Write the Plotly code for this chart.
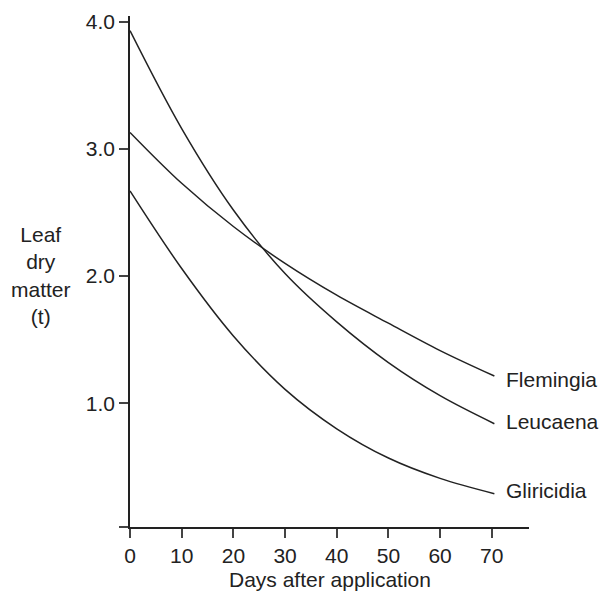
import plotly.graph_objects as go

# Leaf dry matter remaining after application (t)
days = [0, 10, 20, 30, 40, 50, 60, 70.5]
leucaena = [3.93, 3.16, 2.52, 2.02, 1.64, 1.32, 1.06, 0.84]
flemingia = [3.13, 2.73, 2.39, 2.10, 1.85, 1.63, 1.415, 1.215]
gliricidia = [2.67, 2.06, 1.53, 1.11, 0.80, 0.57, 0.41, 0.29]

series = [("Flemingia", flemingia, -3), ("Leucaena", leucaena, 2), ("Gliricidia", gliricidia, 3)]

x_ticks = [0, 10, 20, 30, 40, 50, 60, 70]
y_min, y_max = 0.028, 4.045
y_ticks = [y_min, 1.0, 2.0, 3.0, 4.0]
y_tick_text = ["", "1.0", "2.0", "3.0", "4.0"]

INK = "#222222"
FONT = "Liberation Sans, Arial, Helvetica, sans-serif"
FS = 21

fig = go.Figure()
for name, vals, _ in series:
    fig.add_trace(go.Scatter(
        x=days, y=vals, mode="lines", name=name,
        line=dict(color=INK, width=1.5, shape="spline", smoothing=1.0),
        showlegend=False, hoverinfo="skip",
    ))

# curve labels at the right end of each line
for name, vals, dy in series:
    fig.add_annotation(
        x=days[-1], y=vals[-1], xref="x", yref="y",
        text=name, showarrow=False, xanchor="left", yanchor="middle",
        xshift=10, yshift=dy, font=dict(family=FONT, size=FS, color=INK),
    )

# stacked y-axis title
fig.add_annotation(
    x=0, y=2.0, xref="paper", yref="y",
    text="Leaf<br>dry<br>matter<br>(t)", showarrow=False,
    xanchor="center", yanchor="middle", xshift=-89, yshift=1, align="center",
    font=dict(family=FONT, size=FS, color=INK),
)

# x-axis title
fig.add_annotation(
    x=0.5, y=0, xref="paper", yref="paper",
    text="Days after application", showarrow=False,
    xanchor="center", yanchor="top", yshift=-39,
    font=dict(family=FONT, size=FS, color=INK),
)

axis_common = dict(
    showgrid=False, zeroline=False, showline=True, linecolor=INK, linewidth=1.5,
    ticks="outside", ticklen=9, tickwidth=1.5, tickcolor="#444444",
    tickfont=dict(family=FONT, size=FS, color=INK), automargin=False,
)

fig.update_xaxes(
    range=[0, 77.2], tickvals=x_ticks, ticktext=[str(t) for t in x_ticks],
    **axis_common,
)
fig.update_yaxes(
    range=[y_min, y_max], tickvals=y_ticks, ticktext=y_tick_text,
    **axis_common,
)

fig.update_layout(
    width=601, height=592,
    margin=dict(l=130, r=72, t=16, b=65),
    paper_bgcolor="white", plot_bgcolor="white",
    font=dict(family=FONT, size=FS, color=INK),
)

fig.write_html("out.html")
